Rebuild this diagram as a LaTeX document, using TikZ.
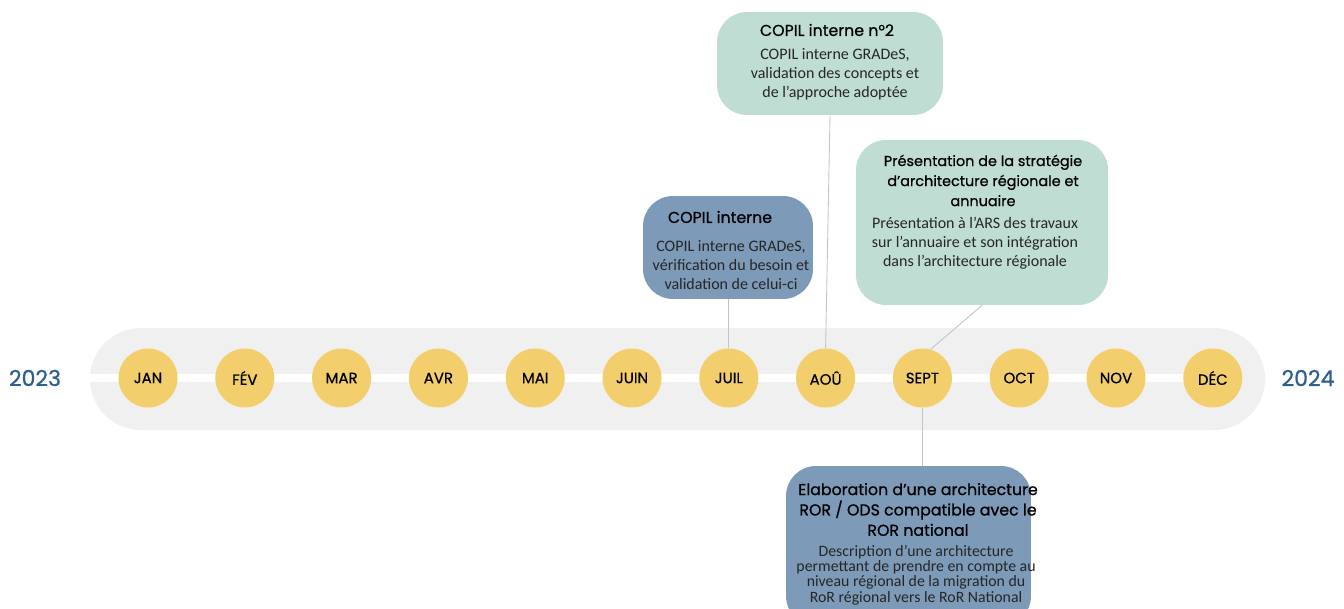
\documentclass[tikz,border=0pt]{standalone}
\usepackage{fontspec}
\setmainfont{Carlito}
\newfontfamily\titlefont[FakeBold=0.8]{Poppins}
\usetikzlibrary{positioning}
\definecolor{bande}{HTML}{F0F0F0}
\definecolor{jaune}{HTML}{F2CF6C}
\definecolor{vertclair}{HTML}{BFDDD3}
\definecolor{bleugris}{HTML}{7D9AB8}
\definecolor{bleuan}{HTML}{2F5F91}
\definecolor{trait}{HTML}{C4C4C4}
\newcommand{\corps}{\fontsize{9.1}{10.8}\selectfont}
\newcommand{\titre}{\titlefont\fontsize{9}{11.4}\selectfont}
\tikzset{
	mois/.style={circle, fill=jaune, minimum size=1.18cm, inner sep=0pt,
		font=\titlefont\fontsize{8.5}{10}\selectfont},
	jalon/.style={rounded corners=0.6cm, inner sep=0pt},
	titrejalon/.style={align=center, inner sep=0pt, font=\titre},
	textejalon/.style={align=center, inner sep=0pt, font=\corps, text=black!85},
	lien/.style={draw=trait, line width=0.5pt},
	annee/.style={text=bleuan, font=\titlefont\fontsize{12.5}{14}\selectfont}
}

\begin{document}
\begin{tikzpicture}[x=0.02cm, y=-0.02cm]
	\useasboundingbox (0,0) rectangle (1344,608);
	\clip (0,0) rectangle (1344,608);
	
	% frise
	\fill[bande, rounded corners=1.02cm] (90,328) rectangle (1265,430);
	\draw[white, line width=4.5pt] (90,378) -- (1213,378);
	\foreach \m [count=\i] in {JAN,FÉV,MAR,AVR,MAI,JUIN,JUIL,AOÛ,SEPT,OCT,NOV,DÉC}
		\node[mois] (m\i) at ({148+96.8*(\i-1)},378) {\m};
	\node[annee] (a2023) at (35,378) {2023};
	\node[annee] (a2024) at (1308,378) {2024};
	
	% jalons
	\node[jalon, fill=bleugris, minimum width=3.4cm, minimum height=2.06cm] (copilA) at (728,247.5) {};
	\node[titrejalon] (tA) at (720,217) {COPIL interne};
	\node[textejalon] (cA) at (731,265) {COPIL interne GRADeS,\\vérification du besoin et\\validation de celui-ci};
	
	\node[jalon, fill=vertclair, minimum width=4.52cm, minimum height=2.06cm] (copilB) at (830,63.5) {};
	\node[titrejalon] (tB) at (827,30) {COPIL interne n°2};
	\node[textejalon] (cB) at (835,74) {COPIL interne GRADeS,\\validation des concepts et\\de l’approche adoptée};
	
	\node[jalon, fill=vertclair, minimum width=5.04cm, minimum height=3.3cm] (pres) at (982,222.5) {};
	\node[titrejalon, font=\titlefont\fontsize{8.2}{11.4}\selectfont] (tC) at (983,180.5) {Présentation de la stratégie\\d’architecture régionale et\\annuaire};
	\node[textejalon] (cC) at (975,243) {Présentation à l’ARS des travaux\\sur l’annuaire et son intégration\\dans l’architecture régionale};
	
	\node[jalon, fill=bleugris, minimum width=4.9cm, minimum height=3.2cm] (elab) at (908.5,546) {};
	\node[titrejalon, font=\titlefont\fontsize{9}{11.6}\selectfont] (tD) at (918,509.5) {Elaboration d’une architecture\\ROR / ODS compatible avec le\\ROR national};
	\node[textejalon, font=\fontsize{9}{8.7}\selectfont] (cD) at (916,575) {Description d’une architecture\\permettant de prendre en compte au\\niveau régional de la migration du\\RoR régional vers le RoR National};
	
	% liens
	\draw[lien] (m7.north) -- (m7.north |- copilA.south);
	\draw[lien] (m8.north) -- (copilB.south);
	\draw[lien] (m9.74) -- (pres.south);
	\draw[lien] (m9.south) -- (m9.south |- elab.north);
\end{tikzpicture}
\end{document}
